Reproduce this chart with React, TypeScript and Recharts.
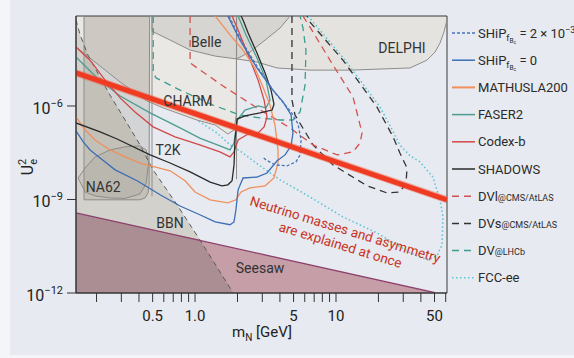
import React from 'react';
import { ComposedChart, Line, Area, XAxis, YAxis, ReferenceArea, ReferenceDot } from 'recharts';

const FONT = 'Roboto, "Liberation Sans", sans-serif';

const X_MIN = 0.143;
const X_MAX = 61.3;
const Y_MIN = 1e-12;
const Y_MAX = 7.7e-4;

const X_TICKS = [0.2, 0.3, 0.4, 0.5, 0.6, 0.7, 0.8, 0.9, 1, 2, 3, 4, 5, 6, 7, 8, 9, 10, 20, 30, 40, 50, 60];
const X_TICK_LABELS: Record<string, string> = { '0.5': '0.5', '1': '1.0', '5': '5', '10': '10', '50': '50' };
const Y_TICKS = [1e-12, 1e-9, 1e-6];

// every point is [m_N in GeV, log10 of U_e^2]
// shaded regions
const DELPHI_EDGE = [[1.97, -3.115], [1.97, -4.49], [2.75, -4.59], [3.82, -4.78], [6.54, -4.85], [12.6, -4.85], [33.5, -4.78], [44.2, -4.53], [50.4, -4.27], [54.7, -3.98], [58.3, -3.63], [61.3, -3.24]];
const CHARM_EDGE = [[0.143, -4.11], [0.212, -4.72], [0.294, -5.23], [0.457, -5.84], [0.593, -6.06], [1.03, -6.45], [1.39, -6.61], [1.71, -6.9], [1.89, -6.77], [1.96, -6.29], [1.97, -3.115]];
const BELLE_EDGE = [[0.495, -3.115], [0.495, -3.6], [0.665, -3.885], [0.922, -4.205], [1.39, -4.4], [1.97, -4.49], [2.45, -4.27], [3.14, -3.885], [4.01, -3.5], [4.72, -3.115]];
const BAND_EDGE = [[0.163, -3.115], [0.163, -9.01], [0.407, -9.01], [0.442, -8.95], [0.464, -8.79], [0.472, -8.53], [0.476, -3.115]];
const BAND_CHARM_EDGE = [[0.163, -3.115], [0.163, -4.33], [0.212, -4.72], [0.294, -5.23], [0.457, -5.84], [0.476, -5.87], [0.476, -3.115]];
const T2K_EDGES = [[[0.495, -3.115], [0.495, -8.9]], [[1.97, -3.115], [1.97, -8.35]]];
// [m, lower, upper]
const NA62_BLOB = [[0.148, -8.31, -8.31], [0.166, -8.76, -7.99], [0.195, -8.885, -7.635], [0.249, -8.95, -7.41], [0.319, -8.965, -7.31], [0.407, -8.82, -7.28], [0.449, -8.5, -7.41], [0.464, -7.99, -7.67], [0.468, -7.83, -7.83]];
const BBN_EDGE = [[0.143, -3.24], [0.153, -3.72], [0.174, -4.37], [0.202, -4.91], [0.249, -5.65], [0.319, -6.45], [0.407, -7.25], [0.504, -8.05], [0.745, -9.17], [1.08, -10.29], [1.86, -11.99]];
const SEESAW_EDGE = [[0.143, -9.43], [50.4, -11.99]];
const BBN_SEESAW_EDGE = [[0.143, -9.43], [1.08, -10.29], [1.86, -11.99]];

// sensitivity curves
const SHIP_BC = [[1.74, -3.115], [2.12, -3.885], [2.8, -4.78], [3.69, -5.58], [4.8, -6.19], [5.38, -6.58], [5.65, -7.09], [5.56, -7.57], [5.2, -7.795], [4.49, -7.92], [3.69, -7.89], [3.19, -7.73], [2.99, -7.635]];
const SHIP = [[0.143, -6.8], [0.161, -7.15], [0.18, -7.41], [0.212, -7.67], [0.271, -8.05], [0.388, -8.4], [0.565, -8.85], [0.783, -9.21], [1.08, -9.49], [1.39, -9.72], [1.77, -9.81], [1.89, -9.72], [1.95, -9.33], [2.02, -8.69], [2.19, -8.31], [2.75, -8.28], [3.24, -8.15], [3.82, -7.76], [4.35, -7.57], [4.8, -7.28], [4.95, -6.865], [4.8, -6.29], [4.21, -5.87], [3.57, -5.49], [2.75, -4.78], [2.08, -3.885], [1.71, -3.115]];
const MATHUSLA = [[0.143, -6.35], [0.166, -6.77], [0.195, -7.09], [0.249, -7.41], [0.319, -7.635], [0.407, -7.83], [0.665, -8.08], [0.849, -8.4], [1.0, -8.76], [1.28, -9.01], [1.71, -9.11], [1.95, -9.01], [2.12, -8.76], [2.45, -8.63], [3.14, -8.56], [3.63, -8.31], [3.88, -7.83], [3.88, -7.41], [3.69, -6.61], [3.4, -5.97], [2.99, -5.33], [2.66, -4.78], [2.19, -4.205], [1.77, -3.72], [1.46, -3.24], [1.39, -3.115]];
const FASER2 = [[0.143, -4.43], [0.202, -5.1], [0.294, -5.68], [0.48, -6.22], [0.783, -6.705], [1.08, -7.03], [1.5, -7.28], [1.77, -7.41], [1.89, -7.19], [1.99, -6.45], [2.26, -6.13], [2.8, -6.0], [3.19, -6.06], [3.4, -5.81], [3.19, -5.17], [2.75, -4.46], [2.3, -3.72], [2.02, -3.115]];
const CODEX_B = [[0.143, -4.11], [0.18, -4.53], [0.23, -5.17], [0.294, -5.74], [0.375, -6.19], [0.504, -6.67], [0.721, -6.99], [1.08, -7.25], [1.5, -7.47], [1.77, -7.635], [1.89, -7.47], [2.02, -7.09], [2.38, -6.9], [2.8, -6.865], [3.09, -6.67], [3.24, -6.35], [3.09, -5.81], [2.8, -5.17], [2.38, -4.365], [2.02, -3.56], [1.83, -3.115]];
const SHADOWS = [[0.143, -6.545], [0.212, -6.83], [0.28, -7.06], [0.48, -7.57], [0.665, -7.83], [0.922, -8.115], [1.28, -8.44], [1.55, -8.56], [1.71, -8.53], [1.83, -8.4], [1.89, -7.89], [1.92, -7.09], [1.99, -6.42], [2.26, -6.32], [2.89, -6.22], [3.52, -6.13], [3.63, -5.94], [3.46, -5.49], [3.14, -4.94], [2.75, -4.3], [2.38, -3.66], [2.19, -3.24], [2.12, -3.115]];
const DVL_CMS = [[0.922, -3.115], [0.922, -4.62], [1.58, -5.36], [2.75, -6.06], [4.72, -6.705], [6.87, -7.25], [10.2, -7.57], [13.2, -7.47], [14.8, -7.19], [15.3, -6.865], [13.2, -5.71], [9.06, -4.53], [6.54, -3.47], [5.83, -3.115]];
const DVS_CMS = [[4.87, -3.115], [4.87, -5.81], [5.12, -6.29], [6.87, -7.25], [9.52, -7.89], [16.6, -8.56], [23.0, -8.79], [28.4, -8.76], [31.4, -8.47], [31.9, -7.99], [28.4, -7.51], [25.4, -6.99], [19.5, -6.03], [11.2, -4.53], [6.54, -3.31], [6.23, -3.115]];
const DV_LHCB = [[0.505, -3.115], [0.505, -4.94], [0.529, -5.1], [0.783, -5.49], [1.34, -5.97], [2.08, -6.29], [2.89, -6.385], [4.01, -6.45], [4.95, -6.45], [5.56, -6.19], [6.03, -5.33], [6.12, -4.205], [5.83, -3.5], [5.56, -3.115]];
const FCC_EE = [[6.33, -3.115], [11.6, -4.53], [20.5, -6.03], [23.4, -6.51], [28.4, -7.25], [33.5, -7.6], [39.4, -7.795], [48.7, -8.28], [54.7, -9.01], [57.4, -9.56], [56.5, -10.46], [52.0, -10.81], [44.2, -10.94], [33.5, -10.71], [19.5, -10.07], [11.2, -9.56], [6.54, -8.92], [4.01, -8.37], [2.89, -7.92], [2.08, -7.44], [1.77, -7.25], [1.43, -6.865], [1.03, -6.45]];
const RED_BAND = [[0.143, -4.94], [61.3, -9.01]];

const REGION_LABELS = [
  { text: 'Belle', m: 1.2, e: -3.95 },
  { text: 'DELPHI', m: 29.4, e: -4.14 },
  { text: 'CHARM', m: 0.89, e: -5.84 },
  { text: 'T2K', m: 0.644, e: -7.41 },
  { text: 'NA62', m: 0.223, e: -8.6 },
  { text: 'BBN', m: 0.665, e: -9.75 },
  { text: 'Seesaw', m: 2.89, e: -11.19 },
];
const BAND_TEXT = { lines: ['Neutrino masses and asymmetry', 'are explained at once'], m: 11.2, e: -10.2 };

const LEGEND = [
  { id: 'shipBc', color: '#4a74ba', dash: '3 2' },
  { id: 'ship', color: '#3d6db5', dash: undefined },
  { id: 'mathusla', color: '#f0905c', dash: undefined },
  { id: 'faser', color: '#4c9d8f', dash: undefined },
  { id: 'codex', color: '#d2484a', dash: undefined },
  { id: 'shadows', color: '#2a2a2a', dash: undefined },
  { id: 'dvl', color: '#d65050', dash: '7 5' },
  { id: 'dvs', color: '#333333', dash: '7 5' },
  { id: 'lhcb', color: '#3d9d8d', dash: '7 5' },
  { id: 'fcc', color: '#5ec4d4', dash: '1.5 2.5' },
];

const curve = (pts: number[][]) => pts.map(([m, e]) => ({ m, u: 10 ** e }));
const hang = (pts: number[][]) => pts.map(([m, e]) => ({ m, r: [10 ** e, Y_MAX] }));
const stand = (pts: number[][]) => pts.map(([m, e]) => ({ m, r: [Y_MIN, 10 ** e] }));
const blob = (pts: number[][]) => pts.map(([m, lo, hi]) => ({ m, r: [10 ** lo, 10 ** hi] }));
const blobOutline = (pts: number[][]) => [
  ...pts.map(([m, lo]) => ({ m, u: 10 ** lo })),
  ...pts.slice().reverse().map(([m, , hi]) => ({ m, u: 10 ** hi })),
];

const XTick = (props: any) => {
  const { x, y, payload } = props;
  const label = X_TICK_LABELS[String(payload.value)];
  if (!label) return null;
  return (
    <text x={x} y={y + 17} textAnchor="middle" fontSize={15} fill="#222" fontFamily={FONT}>
      {label}
    </text>
  );
};

const YTick = (props: any) => {
  const { x, y, payload } = props;
  const exp = Math.round(Math.log10(payload.value));
  return (
    <text x={x} y={y + 8} textAnchor="end" fontSize={16} fill="#222" fontFamily={FONT}>
      10<tspan dy={-7} fontSize={11}>{'\u2212' + Math.abs(exp)}</tspan>
    </text>
  );
};

function legendLabel(id: string) {
  const small = (s: string) => <tspan fontSize={9}>{s}</tspan>;
  switch (id) {
    case 'shipBc':
      return (
        <>
          SHiP<tspan fontSize={9} dy={3}>f</tspan>
          <tspan fontSize={6.5} dy={2}>B</tspan>
          <tspan fontSize={5} dy={1.5}>c</tspan>
          <tspan fontSize={13} dy={-6.5}> = 2 × 10</tspan>
          <tspan fontSize={9} dy={-5}>−3</tspan>
        </>
      );
    case 'ship':
      return (
        <>
          SHiP<tspan fontSize={9} dy={3}>f</tspan>
          <tspan fontSize={6.5} dy={2}>B</tspan>
          <tspan fontSize={5} dy={1.5}>c</tspan>
          <tspan fontSize={13} dy={-6.5}> = 0</tspan>
        </>
      );
    case 'mathusla':
      return 'MATHUSLA200';
    case 'faser':
      return 'FASER2';
    case 'codex':
      return 'Codex-b';
    case 'shadows':
      return 'SHADOWS';
    case 'dvl':
      return <>DVl{small('@CMS/AtLAS')}</>;
    case 'dvs':
      return <>DVs{small('@CMS/AtLAS')}</>;
    case 'lhcb':
      return <>DV{small('@LHCb')}</>;
    default:
      return 'FCC-ee';
  }
}

const regionLine = (key: string, data: any[], color = '#8e8c88', width = 1, dash?: string, opacity = 1) => (
  <Line
    key={key}
    data={data}
    dataKey="u"
    type="linear"
    stroke={color}
    strokeWidth={width}
    strokeOpacity={opacity}
    strokeDasharray={dash}
    dot={false}
    activeDot={false}
    isAnimationActive={false}
  />
);

export default function App() {
  return (
    <div style={{ position: 'absolute', left: 0, top: 0, width: 574, height: 358, background: '#f4f5f8', overflow: 'hidden' }}>
      <div style={{ position: 'absolute', left: 10, top: 0, width: 564, height: 355, background: '#e7eaf0' }} />
      <div style={{ position: 'absolute', left: 0, top: 0 }}>
        <ComposedChart width={574} height={358} margin={{ top: 16, right: 127, bottom: 35, left: 16 }}>
          <XAxis
            dataKey="m"
            type="number"
            scale="log"
            domain={[X_MIN, X_MAX]}
            allowDataOverflow
            ticks={X_TICKS}
            interval={0}
            tick={<XTick />}
            tickSize={9}
            tickMargin={2}
            stroke="#333"
            height={30}
          />
          <YAxis
            type="number"
            scale="log"
            domain={[Y_MIN, Y_MAX]}
            allowDataOverflow
            ticks={Y_TICKS}
            interval={0}
            tick={<YTick />}
            tickSize={9}
            tickMargin={4}
            stroke="#333"
            width={60}
          />

          {/* excluded regions */}
          <Area data={hang(DELPHI_EDGE)} dataKey="r" stroke="none" fill="#e4e3df" fillOpacity={1} isAnimationActive={false} />
          <Area data={hang(CHARM_EDGE)} dataKey="r" stroke="none" fill="#e9e8e4" fillOpacity={1} isAnimationActive={false} />
          <Area data={hang(BELLE_EDGE)} dataKey="r" stroke="none" fill="#d6d5d1" fillOpacity={1} isAnimationActive={false} />
          <Area data={stand(BBN_EDGE)} dataKey="r" stroke="none" fill="#d3d1cb" fillOpacity={1} isAnimationActive={false} />
          <Area data={hang(BAND_EDGE)} dataKey="r" stroke="none" fill="#857e70" fillOpacity={0.2} isAnimationActive={false} />
          <Area data={hang(BAND_CHARM_EDGE)} dataKey="r" stroke="none" fill="#857e70" fillOpacity={0.1} isAnimationActive={false} />
          <Area data={blob(NA62_BLOB)} dataKey="r" stroke="none" fill="#857e70" fillOpacity={0.14} isAnimationActive={false} />
          <Area data={stand(SEESAW_EDGE)} dataKey="r" stroke="none" fill="#c59ea8" fillOpacity={1} isAnimationActive={false} />
          <Area data={stand(BBN_SEESAW_EDGE)} dataKey="r" stroke="none" fill="#ab8d94" fillOpacity={1} isAnimationActive={false} />

          {regionLine('delphi', curve(DELPHI_EDGE))}
          {regionLine('charm', curve(CHARM_EDGE))}
          {regionLine('belle', curve(BELLE_EDGE))}
          {regionLine('band', curve(BAND_EDGE))}
          {T2K_EDGES.map((e, i) => regionLine('t2k' + i, curve(e)))}
          {regionLine('na62', blobOutline(NA62_BLOB))}
          {regionLine('bbn', curve(BBN_EDGE), '#5a5a5a', 1, '5 4')}
          {regionLine('seesaw', curve(SEESAW_EDGE), '#8d3f6b', 1.3)}

          {/* sensitivity curves */}
          {regionLine('fcc', curve(FCC_EE), '#5ec4d4', 1.6, '1.5 2.5')}
          {regionLine('lhcb', curve(DV_LHCB), '#3d9d8d', 1.3, '7 5')}
          {regionLine('dvs', curve(DVS_CMS), '#333333', 1.3, '7 5')}
          {regionLine('dvl', curve(DVL_CMS), '#d65050', 1.3, '7 5')}
          {regionLine('faser', curve(FASER2), '#4c9d8f', 1.3)}
          {regionLine('codex', curve(CODEX_B), '#d2484a', 1.3)}
          {regionLine('mathusla', curve(MATHUSLA), '#f0905c', 1.3)}
          {regionLine('shadows', curve(SHADOWS), '#2a2a2a', 1.3)}
          {regionLine('ship', curve(SHIP), '#3d6db5', 1.3)}
          {regionLine('shipbc', curve(SHIP_BC), '#4a74ba', 1.3, '3 2')}

          {regionLine('bandglow', curve(RED_BAND), '#f05a40', 7, undefined, 0.45)}
          {regionLine('band-core', curve(RED_BAND), '#ee3b22', 5)}

          {REGION_LABELS.map((l) => (
            <ReferenceDot
              key={l.text}
              x={l.m}
              y={10 ** l.e}
              r={0}
              ifOverflow="visible"
              shape={(p: any) => (
                <text x={p.cx} y={p.cy} dy="0.35em" textAnchor="middle" fontSize={14} fill="#333" fontFamily={FONT}>
                  {l.text}
                </text>
              )}
            />
          ))}
          <ReferenceDot
            x={BAND_TEXT.m}
            y={10 ** BAND_TEXT.e}
            r={0}
            ifOverflow="visible"
            shape={(p: any) => (
              <text
                transform={`rotate(17 ${p.cx} ${p.cy})`}
                x={p.cx}
                y={p.cy}
                textAnchor="middle"
                fontSize={13.5}
                fill="#c8321e"
                fontFamily={FONT}
              >
                <tspan x={p.cx} dy={-3}>{BAND_TEXT.lines[0]}</tspan>
                <tspan x={p.cx} dy={16}>{BAND_TEXT.lines[1]}</tspan>
              </text>
            )}
          />

          <ReferenceArea x1={X_MIN} x2={X_MAX} y1={Y_MIN} y2={Y_MAX} fill="none" stroke="#3a3a3a" strokeWidth={1} ifOverflow="visible" />
        </ComposedChart>
      </div>

      <svg width={574} height={358} style={{ position: 'absolute', left: 0, top: 0, pointerEvents: 'none' }} fontFamily={FONT}>
        <text transform="rotate(-90 33 167)" x={33} y={167} textAnchor="middle" fontSize={16} fill="#222">
          U<tspan dy={4} fontSize={11}>e</tspan>
          <tspan dy={-11} dx={-6} fontSize={11}>2</tspan>
        </text>
        <text x={262} y={337} textAnchor="middle" fontSize={15} fill="#222">
          m<tspan dy={4} fontSize={10}>N</tspan>
          <tspan dy={-4}> [GeV]</tspan>
        </text>
        {LEGEND.map((item, i) => {
          const y = 33 + i * 27.2;
          return (
            <g key={item.id}>
              <line x1={452} x2={475} y1={y} y2={y} stroke={item.color} strokeWidth={item.id === 'mathusla' ? 2 : 1.5} strokeDasharray={item.dash} />
              <text x={478} y={y + 4.5} fontSize={13} fill="#2b2b2b">
                {legendLabel(item.id)}
              </text>
            </g>
          );
        })}
      </svg>
    </div>
  );
}
